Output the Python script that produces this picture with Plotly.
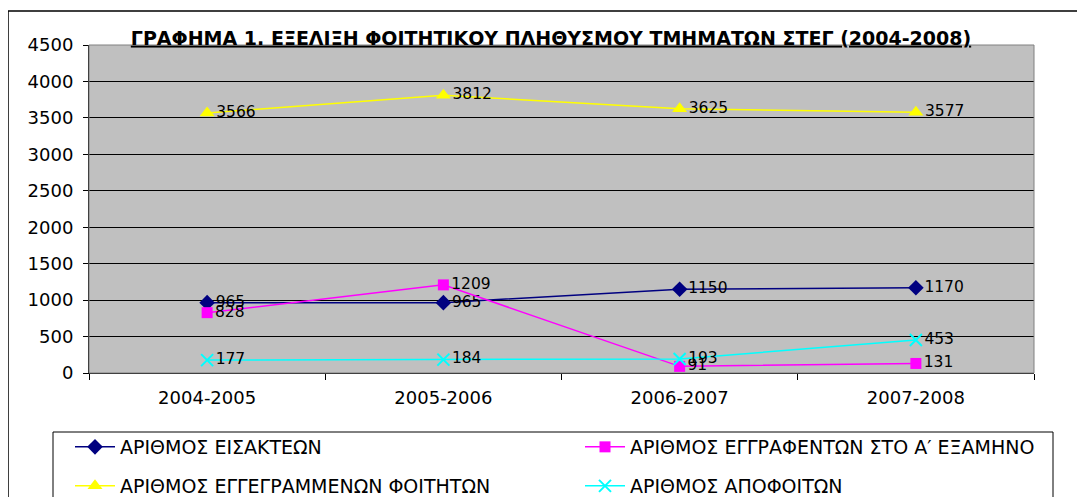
import plotly.graph_objects as go

years = ["2004-2005", "2005-2006", "2006-2007", "2007-2008"]
eisaktees = [965, 965, 1150, 1170]
eggrafentes = [828, 1209, 91, 131]
eggegrammenoi = [3566, 3812, 3625, 3577]
apofoitoi = [177, 184, 193, 453]

names = ["ΑΡΙΘΜΟΣ ΕΙΣΑΚΤΕΩΝ", "ΑΡΙΘΜΟΣ ΕΓΓΡΑΦΕΝΤΩΝ ΣΤΟ Α\u2032 ΕΞΑΜΗΝΟ",
         "ΑΡΙΘΜΟΣ ΕΓΓΕΓΡΑΜΜΕΝΩΝ ΦΟΙΤΗΤΩΝ", "ΑΡΙΘΜΟΣ ΑΠΟΦΟΙΤΩΝ"]

# page has an 8px body margin, so figure pixels = page pixels - 8
OFF = 8
W, H = 1085, 497
L, R, T, B = 89 - OFF, 51 + OFF, 45 - OFF, 124 + OFF
pw, ph = W - L - R, H - T - B


def px_x(x):
    return (x - OFF - L) / pw


def px_y(y):
    return (H - B - (y - OFF)) / ph


fig = go.Figure()
series = [
    (eisaktees, "#000080", "diamond", 12, 0, "legend"),
    (eggrafentes, "#FF00FF", "square", 11, 0, "legend"),
    (eggegrammenoi, "#FFFF00", "triangle-up", 13, 0, "legend2"),
    (apofoitoi, "#00FFFF", "x-thin", 12, 2, "legend2"),
]
for (vals, col, sym, size, lw, lg), name in zip(series, names):
    fig.add_trace(go.Scatter(
        x=years, y=vals, name=name, mode="lines+markers+text",
        text=[str(v) for v in vals], textposition="middle right",
        textfont=dict(family="DejaVu Sans", size=15.5, color="black"),
        line=dict(color=col, width=1.5),
        marker=dict(symbol=sym, size=size, color=col,
                    line=dict(color=col, width=lw)),
        legend=lg,
    ))

leg_common = dict(orientation="h", x=px_x(70), xanchor="left", yanchor="middle",
                  entrywidth=455, entrywidthmode="pixels",
                  font=dict(family="DejaVu Sans", size=19, color="black"),
                  bgcolor="rgba(0,0,0,0)", itemwidth=40)

fig.update_layout(
    width=W, height=H,
    margin=dict(l=L, r=R, t=T, b=B, autoexpand=False),
    paper_bgcolor="white",
    plot_bgcolor="#C0C0C0",
    title=dict(text="<b><u>ΓΡΑΦΗΜΑ 1. ΕΞΕΛΙΞΗ ΦΟΙΤΗΤΙΚΟΥ ΠΛΗΘΥΣΜΟΥ ΤΜΗΜΑΤΩΝ ΣΤΕΓ (2004-2008)</u></b>",
               x=px_x(551), xref="paper", xanchor="center",
               y=1 - (38 - OFF) / H, yanchor="middle",
               font=dict(family="DejaVu Sans", size=19, color="black")),
    font=dict(family="DejaVu Sans", color="black"),
    xaxis=dict(range=[-0.5, 3.5], showgrid=False, showline=True, linecolor="black",
               linewidth=1, ticks="outside", tickson="boundaries", ticklen=6,
               tickcolor="black", tickfont=dict(size=18), ticklabelstandoff=8,
               mirror=False),
    yaxis=dict(range=[0, 4500], dtick=500, showgrid=True, gridcolor="black",
               gridwidth=1, showline=True, linecolor="black", linewidth=1,
               ticks="outside", ticklen=5, tickcolor="black",
               tickfont=dict(size=18), ticklabelstandoff=6, zeroline=False),
    showlegend=True,
    legend=dict(y=px_y(447), **leg_common),
    legend2=dict(y=px_y(486), **leg_common),
    shapes=[
        dict(type="rect", xref="paper", yref="paper",
             x0=0, x1=1, y0=0, y1=1, line=dict(color="#808080", width=1)),
        dict(type="rect", xref="paper", yref="paper",
             x0=px_x(8), x1=px_x(1095), y0=px_y(510), y1=px_y(11),
             line=dict(color="black", width=1.5)),
        dict(type="rect", xref="paper", yref="paper",
             x0=px_x(53), x1=px_x(1053), y0=px_y(510), y1=px_y(432),
             line=dict(color="black", width=1)),
    ],
)

fig.write_html("out.html")
